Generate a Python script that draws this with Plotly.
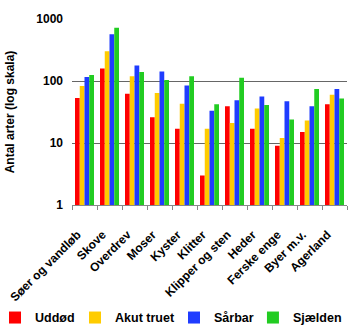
import plotly.graph_objects as go

# Naturtyper og antal arter pr. rødlistekategori
naturtyper = ["Søer og vandløb", "Skove", "Overdrev", "Moser", "Kyster", "Klitter",
              "Klipper og sten", "Heder", "Ferske enge", "Byer m.v.", "Agerland"]

uddoed = [53, 159, 62, 26, 17, 3, 39, 17, 9, 15, 42]
akut_truet = [83, 303, 119, 64, 43, 17, 21, 36, 12, 23, 60]
saarbar = [116, 566, 178, 142, 85, 33, 49, 56, 47, 39, 74]
sjaelden = [125, 725, 140, 104, 119, 42, 113, 41, 24, 74, 52]

serier = [
    ("Uddød", uddoed, "#FF0000"),
    ("Akut truet", akut_truet, "#FFCC00"),
    ("Sårbar", saarbar, "#1F3CFF"),
    ("Sjælden", sjaelden, "#22CC22"),
]

# one legend box per series, spread along the bottom row
legend_ids = ["legend", "legend2", "legend3", "legend4"]
legend_x = [-0.28, 0.011, 0.371, 0.658]

font_family = "Liberation Sans, Arial, sans-serif"
legend_font = dict(family=font_family, size=12.5, color="black", weight="bold")

fig = go.Figure()
for (navn, vaerdier, farve), lid in zip(serier, legend_ids):
    fig.add_trace(go.Bar(
        x=naturtyper, y=vaerdier, name=navn, legend=lid,
        marker=dict(color=farve, line=dict(width=0)),
    ))

legend_layout = {
    lid: dict(orientation="h", x=lx, xanchor="left", y=-0.607, yanchor="middle",
              font=legend_font, itemclick=False, bgcolor="rgba(0,0,0,0)")
    for lid, lx in zip(legend_ids, legend_x)
}

fig.update_layout(
    width=350, height=329,
    margin=dict(l=72, r=3, t=19, b=124, autoexpand=False),
    paper_bgcolor="white", plot_bgcolor="white",
    barmode="group", bargap=0.24, bargroupgap=0,
    font=dict(family=font_family, size=11, color="black"),
    showlegend=True,
    **legend_layout,
)

fig.update_yaxes(
    type="log", range=[0, 3], dtick=1,
    tickvals=[1, 10, 100, 1000], ticktext=["1", "10", "100", "1000"],
    showgrid=True, gridcolor="#666666", gridwidth=1,
    zeroline=False, showline=False, automargin=False,
    ticks="", ticklabelstandoff=8,
    tickfont=dict(family=font_family, size=12, color="black", weight="bold"),
    title=dict(text="Antal arter (log skala)", standoff=19,
               font=dict(family=font_family, size=12, color="black", weight="bold")),
)

fig.update_xaxes(
    showline=True, linecolor="#888888", linewidth=1, automargin=False,
    ticks="outside", ticklen=4, tickcolor="#888888", tickson="boundaries",
    tickangle=-45, ticklabelstandoff=17, ticklabelshift=-7,
    tickfont=dict(family=font_family, size=12, color="black", weight="bold"),
    showgrid=False,
)

fig.write_html("out.html")
